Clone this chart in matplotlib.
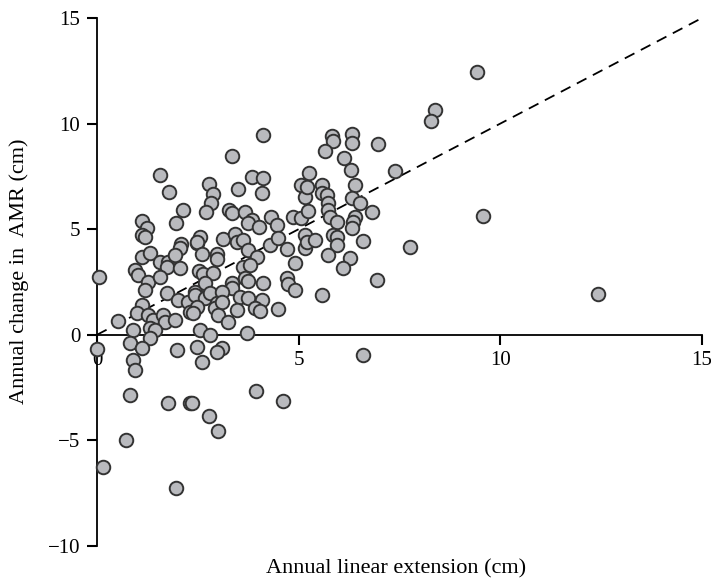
import matplotlib
matplotlib.use("Agg")
import matplotlib.pyplot as plt

plt.rcParams["font.family"] = ["Liberation Serif", "DejaVu Serif"]

# annual linear extension (cm)
ext = [1.56, 1.79, 2.13, 1.12, 1.24, 1.96, 1.12, 1.19, 2.08, 2.06,
       2.48, 1.12, 1.32, 1.56, 1.76, 1.74, 1.94, 2.06, 0.94, 1.02,
       1.27, 1.56, 1.19, 0.05, 1.74, 2.01, 2.26, 2.31, 2.43, 1.12,
       0.99, 0.52, 1.27, 1.39, 1.64, 1.69, 1.94, 0.89, 1.32, 1.44,
       1.32, 0.82, 1.12, 0.00, 1.99, 0.89, 0.94, 0.82, 1.76, 2.31,
       0.72, 0.15, 1.96, 4.12, 3.35, 3.85, 4.12, 2.78, 2.88, 2.83,
       2.70, 3.50, 4.09, 3.28, 3.35, 3.67, 3.85, 3.75, 4.02, 4.32,
       4.47, 5.06, 5.16, 5.26, 4.86, 5.06, 5.24, 2.56, 2.48, 2.61,
       3.13, 3.42, 3.47, 3.62, 2.98, 2.98, 3.75, 3.97, 4.29, 4.49,
       4.71, 5.16, 5.16, 2.53, 2.63, 2.88, 3.62, 3.80, 4.91, 3.67,
       3.75, 4.12, 3.35, 3.35, 4.71, 4.74, 4.91, 2.68, 2.43, 2.68,
       2.80, 3.10, 2.98, 2.93, 3.10, 3.55, 3.75, 4.09, 2.48, 2.38,
       3.00, 3.47, 3.92, 4.04, 4.49, 3.25, 2.56, 2.80, 3.72, 2.48,
       3.10, 2.98, 2.61, 2.36, 2.78, 3.00, 3.95, 4.62, 5.83, 5.86,
       6.33, 6.33, 6.97, 5.66, 6.13, 6.30, 7.39, 5.21, 5.58, 5.58,
       5.71, 6.40, 6.33, 6.53, 5.73, 5.73, 5.78, 6.82, 6.40, 6.35,
       6.33, 5.96, 5.86, 5.96, 5.21, 5.41, 6.60, 5.96, 5.73, 6.28,
       7.77, 6.10, 6.95, 5.58, 6.60, 9.43, 8.39, 8.29, 9.58, 12.43]

# annual change in AMR (cm)
amr = [7.58, 6.78, 5.92, 5.40, 5.07, 5.31, 4.74, 4.64, 4.31, 4.12,
       4.36, 3.70, 3.89, 3.46, 3.46, 3.22, 3.79, 3.18, 3.08, 2.84,
       2.51, 2.75, 2.13, 2.75, 1.99, 1.66, 1.56, 1.09, 2.04, 1.42,
       1.04, 0.66, 0.95, 0.71, 0.95, 0.62, 0.71, 0.24, 0.33, 0.24,
       -0.14, -0.38, -0.62, -0.65, -0.71, -1.18, -1.66, -2.84, -3.22, -3.22,
       -4.98, -6.26, -7.25, 9.48, 8.48, 7.49, 7.44, 7.16, 6.68, 6.26,
       5.83, 6.92, 6.73, 5.92, 5.78, 5.83, 5.45, 5.31, 5.12, 5.59,
       5.21, 7.11, 6.54, 7.68, 5.59, 5.55, 5.88, 4.64, 4.41, 3.84,
       4.55, 4.79, 4.41, 4.50, 3.84, 3.60, 4.03, 3.70, 4.27, 4.60,
       4.08, 4.74, 4.12, 3.03, 2.89, 2.94, 3.22, 3.32, 3.41, 2.70,
       2.56, 2.46, 2.46, 2.23, 2.70, 2.42, 2.13, 2.46, 1.90, 1.75,
       1.99, 2.04, 1.52, 1.28, 1.56, 1.80, 1.75, 1.66, 1.33, 1.04,
       0.95, 1.18, 1.28, 1.14, 1.23, 0.62, 0.24, 0.00, 0.09, -0.57,
       -0.62, -0.81, -1.28, -3.22, -3.84, -4.55, -2.65, -3.13, 9.43, 9.19,
       9.53, 9.10, 9.05, 8.72, 8.39, 7.82, 7.77, 7.01, 7.11, 6.73,
       6.64, 7.11, 6.49, 6.26, 6.26, 5.92, 5.59, 5.83, 5.59, 5.36,
       5.07, 5.36, 4.74, 4.64, 4.41, 4.50, 4.45, 4.27, 3.79, 3.65,
       4.17, 3.18, 2.61, 1.90, -0.95, 12.46, 10.62, 10.14, 5.64, 1.94]

fig = plt.figure(figsize=(7.11, 5.82), dpi=100)
ax = fig.add_axes([0.1364, 0.0619, 0.8509, 0.9072])

# 1:1 line
ax.plot([0, 15], [0, 15], color="black", lw=1.3, ls=(0, (6, 4)), zorder=2)
ax.scatter(ext, amr, s=95, facecolor="#b9babe", edgecolor="#333333",
           linewidths=1.4, zorder=3, clip_on=False)

ax.set_xlim(0, 15)
ax.set_ylim(-10, 15)
ax.set_xticks([0, 5, 10, 15])
ax.set_yticks([-10, -5, 0, 5, 10, 15])
ax.set_yticklabels(["\u221210", "\u22125", "0", "5", "10", "15"])

ax.spines["top"].set_visible(False)
ax.spines["right"].set_visible(False)
ax.spines["bottom"].set_position(("data", 0))
for s in ("left", "bottom"):
    ax.spines[s].set_linewidth(1.3)
ax.tick_params(axis="both", direction="out", length=7, width=1.5,
               labelsize=15, pad=5)

ax.set_xlabel("Annual linear extension (cm)", fontsize=16)
ax.xaxis.set_label_coords(0.495, -0.026)
ax.set_ylabel("Annual change in  AMR (cm)", fontsize=16)
ax.yaxis.set_label_coords(-0.113, 0.52)

fig.savefig("out.png", dpi=100)
